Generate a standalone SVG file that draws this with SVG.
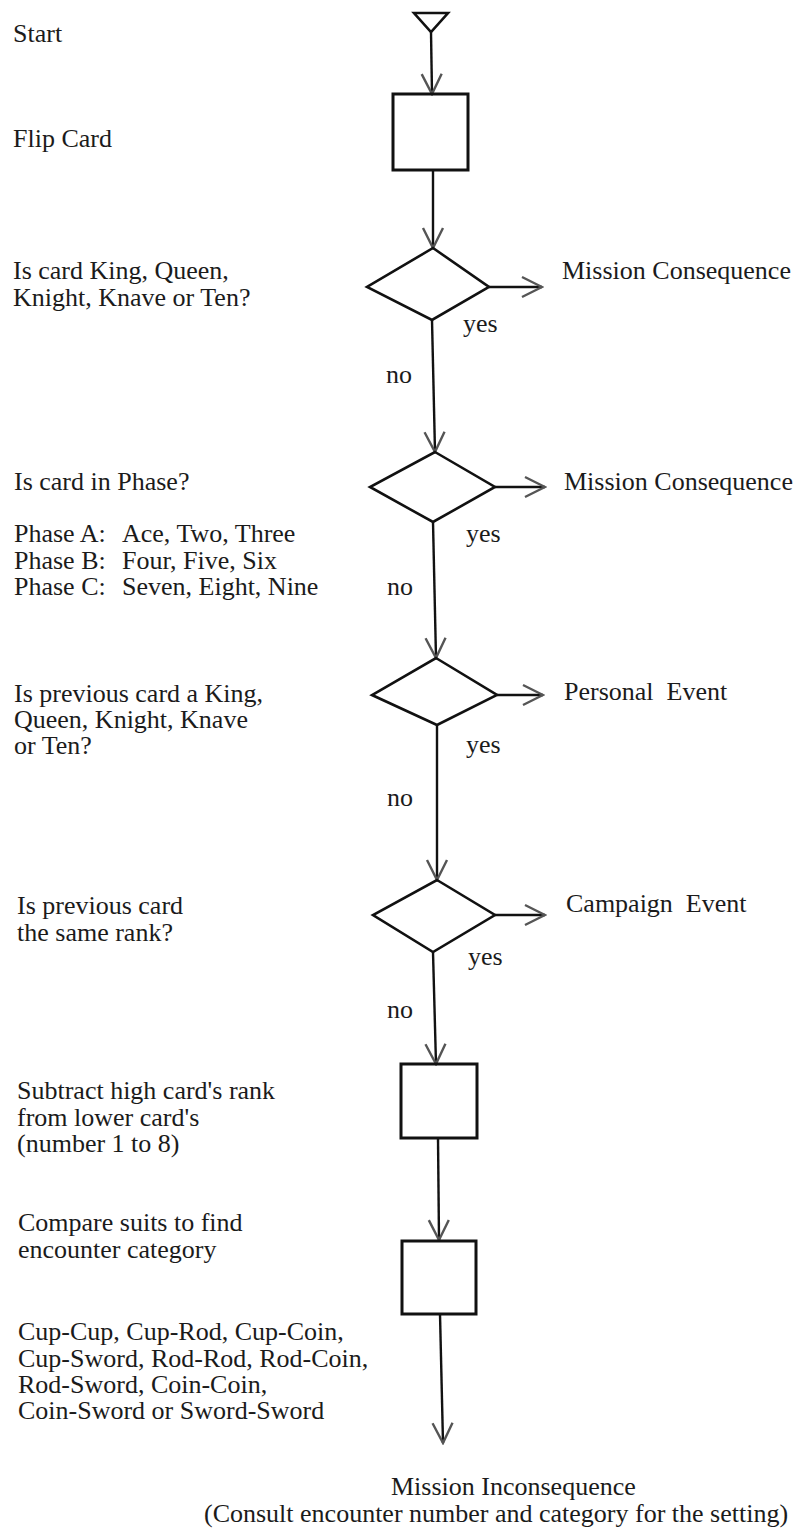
<svg xmlns="http://www.w3.org/2000/svg" width="797" height="1532" viewBox="0 0 797 1532">
<defs>
<style>
text{font-family:"Liberation Serif","Times New Roman",serif;font-size:26px;fill:#1b1b1b}
.shape{fill:none;stroke:#111;stroke-width:2.6;stroke-linejoin:miter}
.box{fill:none;stroke:#111;stroke-width:3}
.conn{fill:none;stroke:#111;stroke-width:2.4}
</style>
<marker id="arr" markerUnits="userSpaceOnUse" markerWidth="24" markerHeight="24" viewBox="-22 -12 24 24" refX="0" refY="0" orient="auto">
<path d="M-20,-10 L0,0 L-20,10" fill="none" stroke="#555" stroke-width="2.4"/>
</marker>
</defs>
<rect x="0" y="0" width="797" height="1532" fill="#fff"/>

<g id="connectors">
<path class="conn" d="M431,32 L432,94" marker-end="url(#arr)"/>
<path class="conn" d="M433,170 L433,248" marker-end="url(#arr)"/>
<path class="conn" d="M489,287 L542,287" marker-end="url(#arr)"/>
<path class="conn" d="M432,320 L435,452" marker-end="url(#arr)"/>
<path class="conn" d="M495,487 L545,487" marker-end="url(#arr)"/>
<path class="conn" d="M433,522 L436,658" marker-end="url(#arr)"/>
<path class="conn" d="M497,695 L543,695" marker-end="url(#arr)"/>
<path class="conn" d="M437,725 L437,880" marker-end="url(#arr)"/>
<path class="conn" d="M495,915 L545,915" marker-end="url(#arr)"/>
<path class="conn" d="M433,952 L436,1064" marker-end="url(#arr)"/>
<path class="conn" d="M438,1138 L439,1240" marker-end="url(#arr)"/>
<path class="conn" d="M440,1314 L443,1443" marker-end="url(#arr)"/>
<text x="463" y="332">yes</text>
<text x="386" y="383">no</text>
<text x="466" y="542">yes</text>
<text x="387" y="595">no</text>
<text x="466" y="753">yes</text>
<text x="387" y="806">no</text>
<text x="468" y="965">yes</text>
<text x="387" y="1018">no</text>
</g>

<g id="start">
<polygon class="shape" points="414,13 448,13 431,32"/>
<text x="13" y="42">Start</text>
</g>

<g id="flip-card">
<rect class="box" x="393" y="94" width="75" height="76"/>
<text x="13" y="147">Flip Card</text>
</g>

<g id="decision-court-card">
<polygon class="shape" points="433,248 489,287 432,320 367,287"/>
<text x="13" y="279">Is card King, Queen,</text>
<text x="13" y="306">Knight, Knave or Ten?</text>
</g>

<g id="mission-consequence-1">
<text x="562" y="279">Mission Consequence</text>
</g>

<g id="decision-phase">
<polygon class="shape" points="435,452 495,487 433,522 370,487"/>
<text x="14" y="490">Is card in Phase?</text>
<text x="14" y="542">Phase A:</text><text x="122" y="542">Ace, Two, Three</text>
<text x="14" y="569">Phase B:</text><text x="122" y="569">Four, Five, Six</text>
<text x="14" y="595">Phase C:</text><text x="122" y="595">Seven, Eight, Nine</text>
</g>

<g id="mission-consequence-2">
<text x="564" y="490">Mission Consequence</text>
</g>

<g id="decision-previous-court">
<polygon class="shape" points="436,658 497,695 437,725 372,695"/>
<text x="14" y="702">Is previous card a King,</text>
<text x="14" y="728">Queen, Knight, Knave</text>
<text x="14" y="754">or Ten?</text>
</g>

<g id="personal-event">
<text x="564" y="700">Personal&#160; Event</text>
</g>

<g id="decision-same-rank">
<polygon class="shape" points="437,880 495,915 433,952 373,915"/>
<text x="17" y="914">Is previous card</text>
<text x="17" y="941">the same rank?</text>
</g>

<g id="campaign-event">
<text x="566" y="912">Campaign&#160; Event</text>
</g>

<g id="subtract">
<rect class="box" x="401" y="1064" width="76" height="74"/>
<text x="17" y="1099">Subtract high card's rank</text>
<text x="17" y="1126">from lower card's</text>
<text x="17" y="1152">(number 1 to 8)</text>
</g>

<g id="compare-suits">
<rect class="box" x="402" y="1241" width="74" height="73"/>
<text x="18" y="1231">Compare suits to find</text>
<text x="18" y="1258">encounter category</text>
<text x="18" y="1340">Cup-Cup, Cup-Rod, Cup-Coin,</text>
<text x="18" y="1367">Cup-Sword, Rod-Rod, Rod-Coin,</text>
<text x="18" y="1393">Rod-Sword, Coin-Coin,</text>
<text x="18" y="1419">Coin-Sword or Sword-Sword</text>
</g>

<g id="mission-inconsequence">
<text x="391" y="1495">Mission Inconsequence</text>
<text x="204" y="1522">(Consult encounter number and category for the setting)</text>
</g>
</svg>
